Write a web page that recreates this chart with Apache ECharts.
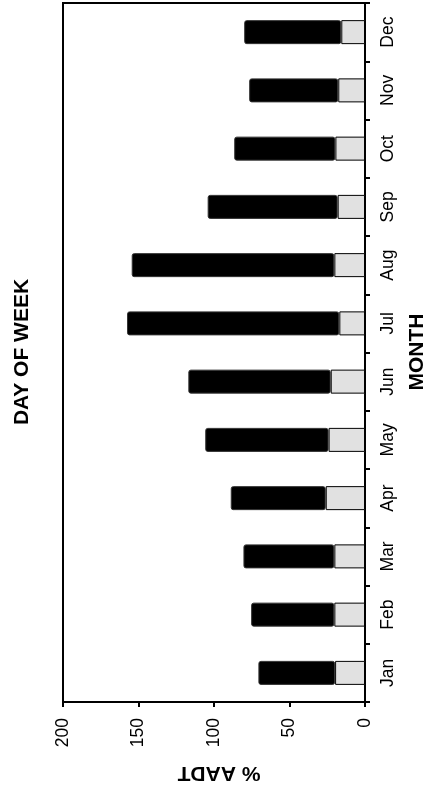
<!DOCTYPE html>
<html>
<head>
<meta charset="utf-8">
<script src="https://cdn.jsdelivr.net/npm/echarts@6/dist/echarts.min.js"></script>
<style>
html,body{margin:0;padding:0;background:#fff;}
#chart{width:427px;height:790px;}
</style>
</head>
<body>
<div id="chart"></div>
<script>
var months = ['Jan','Feb','Mar','Apr','May','Jun','Jul','Aug','Sep','Oct','Nov','Dec'];
// light segment (base) of each bar, % AADT
var baseValues = [19.8, 20.3, 20.3, 26.0, 24.1, 22.7, 17.0, 20.3, 18.1, 19.6, 17.7, 15.7];
// dark segment stacked on top, % AADT
var topValues = [50.8, 55.1, 60.2, 62.9, 81.7, 94.3, 140.6, 134.2, 86.1, 67.0, 59.0, 64.3];
var valueTicks = [0, 50, 100, 150, 200];

var FONT = '"Liberation Sans", Arial, sans-serif';
var chart = echarts.init(document.getElementById('chart'), null, {renderer: 'canvas'});

var option = {
  animation: false,
  backgroundColor: '#fff',
  grid: {
    left: 63, top: 3, width: 302, height: 699,
    show: true, borderColor: '#000', borderWidth: 2, backgroundColor: 'transparent'
  },
  xAxis: {
    type: 'value',
    position: 'bottom',
    inverse: true,
    min: valueTicks[0],
    max: valueTicks[valueTicks.length - 1],
    interval: 50,
    splitLine: {show: false},
    axisLine: {show: true, lineStyle: {color: '#000', width: 2}},
    axisTick: {show: true, length: 5, lineStyle: {color: '#000', width: 2}},
    axisLabel: {
      rotate: 90, margin: 16, color: '#000', fontSize: 17.5, fontFamily: FONT
    }
  },
  yAxis: {
    type: 'category',
    position: 'right',
    data: months,
    axisLine: {show: true, lineStyle: {color: '#000', width: 2}},
    axisTick: {show: true, length: 5, lineStyle: {color: '#000', width: 2}},
    axisLabel: {
      rotate: 90, margin: 14, color: '#000', fontSize: 17.5, fontFamily: FONT
    },
    splitLine: {show: false}
  },
  series: [
    {
      type: 'bar', stack: 'total', data: baseValues, barWidth: 24,
      itemStyle: {color: '#e1e1e1', borderColor: '#000', borderWidth: 1}
    },
    {
      type: 'bar', stack: 'total', data: topValues, barWidth: 24,
      itemStyle: {color: '#000', borderColor: '#333', borderWidth: 1, borderRadius: 2}
    }
  ],
  graphic: [
    {
      type: 'text', x: 22, y: 352, rotation: Math.PI / 2,
      style: {text: 'DAY OF WEEK', font: 'bold 21px ' + FONT, fill: '#000', align: 'center', verticalAlign: 'middle'}
    },
    {
      type: 'text', x: 417, y: 352, rotation: Math.PI / 2,
      style: {text: 'MONTH', font: 'bold 21px ' + FONT, fill: '#000', align: 'center', verticalAlign: 'middle'}
    },
    {
      type: 'text', x: 219, y: 773, rotation: Math.PI,
      style: {text: '% AADT', font: 'bold 21px ' + FONT, fill: '#000', align: 'center', verticalAlign: 'middle'}
    }
  ]
};
chart.setOption(option);
</script>
</body>
</html>
